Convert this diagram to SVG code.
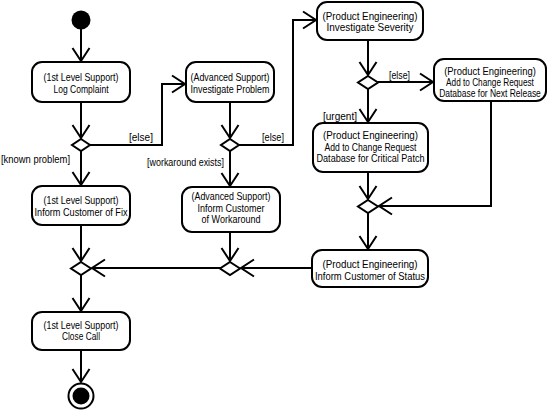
<svg xmlns="http://www.w3.org/2000/svg" width="550" height="410" viewBox="0 0 550 410">
<defs>
<style>
.box{fill:#fff;stroke:#000;stroke-width:2}
.dia{fill:#fff;stroke:#000;stroke-width:2}
.ln{fill:none;stroke:#000;stroke-width:2}
text{font-family:"Liberation Sans",Arial,sans-serif;font-size:11.5px;fill:#000}
.c{text-anchor:middle}
</style>
<marker id="arr" markerUnits="userSpaceOnUse" markerWidth="20" markerHeight="20" viewBox="-14 -10 16 20" refX="0" refY="0" orient="auto">
<path d="M-13,-8.5 L0,0 L-13,8.5" fill="none" stroke="#000" stroke-width="2"/>
</marker>
</defs>
<rect width="550" height="410" fill="#fff"/>
<g id="connectors">
<path class="ln" d="M81,29 V61" marker-end="url(#arr)"/>
<path class="ln" d="M81,102 V138" marker-end="url(#arr)"/>
<path class="ln" d="M90,145 H162 V84 H185" marker-end="url(#arr)"/>
<path class="ln" d="M81,151 V185" marker-end="url(#arr)"/>
<path class="ln" d="M230,102 V138" marker-end="url(#arr)"/>
<path class="ln" d="M239,145 H293 V20 H316" marker-end="url(#arr)"/>
<path class="ln" d="M230,151 V186" marker-end="url(#arr)"/>
<path class="ln" d="M368,40 V75" marker-end="url(#arr)"/>
<path class="ln" d="M378,82 H433" marker-end="url(#arr)"/>
<path class="ln" d="M368,89 V122" marker-end="url(#arr)"/>
<path class="ln" d="M368,172 V199" marker-end="url(#arr)"/>
<path class="ln" d="M491,101 V206 H379" marker-end="url(#arr)"/>
<path class="ln" d="M368,213 V249" marker-end="url(#arr)"/>
<path class="ln" d="M312,268 H241" marker-end="url(#arr)"/>
<path class="ln" d="M221,268 H92" marker-end="url(#arr)"/>
<path class="ln" d="M230,232 V261" marker-end="url(#arr)"/>
<path class="ln" d="M81,225 V261" marker-end="url(#arr)"/>
<path class="ln" d="M81,275 V311" marker-end="url(#arr)"/>
<path class="ln" d="M81,350 V382" marker-end="url(#arr)"/>
<text x="129" y="141" textLength="24" lengthAdjust="spacingAndGlyphs">[else]</text>
<text x="1" y="163" textLength="69" lengthAdjust="spacingAndGlyphs">[known problem]</text>
<text x="147" y="166" textLength="77" lengthAdjust="spacingAndGlyphs">[workaround exists]</text>
<text x="262" y="141" textLength="22" lengthAdjust="spacingAndGlyphs">[else]</text>
<text x="389" y="79" textLength="21" lengthAdjust="spacingAndGlyphs">[else]</text>
<text x="323" y="120" textLength="34" lengthAdjust="spacingAndGlyphs">[urgent]</text>
</g>
<g id="start"><circle cx="81" cy="20" r="9.5" fill="#000"/></g>
<g id="logComplaint">
<rect class="box" x="32" y="62" width="98" height="40" rx="10"/>
<text class="c" x="81" y="81" textLength="75" lengthAdjust="spacingAndGlyphs">(1st Level Support)</text>
<text class="c" x="81" y="92.5" textLength="55" lengthAdjust="spacingAndGlyphs">Log Complaint</text>
</g>
<g id="dec1"><polygon class="dia" points="81,139 90,145 81,151 72,145"/></g>
<g id="investigateProblem">
<rect class="box" x="186" y="62" width="88" height="40" rx="10"/>
<text class="c" x="230" y="81" textLength="79" lengthAdjust="spacingAndGlyphs">(Advanced Support)</text>
<text class="c" x="230" y="92.5" textLength="79" lengthAdjust="spacingAndGlyphs">Investigate Problem</text>
</g>
<g id="dec2"><polygon class="dia" points="230,139 239,145 230,151 221,145"/></g>
<g id="informFix">
<rect class="box" x="32" y="186" width="98" height="39" rx="10"/>
<text class="c" x="81" y="204" textLength="75" lengthAdjust="spacingAndGlyphs">(1st Level Support)</text>
<text class="c" x="81" y="215.5" textLength="93" lengthAdjust="spacingAndGlyphs">Inform Customer of Fix</text>
</g>
<g id="informWorkaround">
<rect class="box" x="182" y="187" width="98" height="45" rx="10"/>
<text class="c" x="231" y="200" textLength="79" lengthAdjust="spacingAndGlyphs">(Advanced Support)</text>
<text class="c" x="231" y="211.5" textLength="67" lengthAdjust="spacingAndGlyphs">Inform Customer</text>
<text class="c" x="231" y="223" textLength="59" lengthAdjust="spacingAndGlyphs">of Workaround</text>
</g>
<g id="investigateSeverity">
<rect class="box" x="317" y="2" width="106" height="38" rx="10"/>
<text class="c" x="370" y="19.5" textLength="95" lengthAdjust="spacingAndGlyphs">(Product Engineering)</text>
<text class="c" x="370" y="31" textLength="87" lengthAdjust="spacingAndGlyphs">Investigate Severity</text>
</g>
<g id="dec3"><polygon class="dia" points="368,76 378,82.5 368,89 358,82.5"/></g>
<g id="nextRelease">
<rect class="box" x="434" y="59" width="112" height="42" rx="10"/>
<g transform="translate(490,0) scale(0.77,1)">
<text class="c" x="0" y="75" font-size="11" textLength="119" lengthAdjust="spacingAndGlyphs">(Product Engineering)</text>
<text class="c" x="0" y="86" font-size="11" textLength="114" lengthAdjust="spacingAndGlyphs">Add to Change Request</text>
<text class="c" x="0" y="97" font-size="11" textLength="132" lengthAdjust="spacingAndGlyphs">Database for Next Release</text>
</g>
</g>
<g id="criticalPatch">
<rect class="box" x="313" y="123" width="115" height="49" rx="10"/>
<text class="c" x="370.5" y="139" textLength="95" lengthAdjust="spacingAndGlyphs">(Product Engineering)</text>
<text class="c" x="370.5" y="150.5" textLength="92" lengthAdjust="spacingAndGlyphs">Add to Change Request</text>
<text class="c" x="370.5" y="162" textLength="108" lengthAdjust="spacingAndGlyphs">Database for Critical Patch</text>
</g>
<g id="dec4"><polygon class="dia" points="368,200 378,206.5 368,213 358,206.5"/></g>
<g id="informStatus">
<rect class="box" x="312" y="250" width="116" height="37" rx="10"/>
<text class="c" x="370" y="268" textLength="95" lengthAdjust="spacingAndGlyphs">(Product Engineering)</text>
<text class="c" x="370" y="279.5" textLength="110" lengthAdjust="spacingAndGlyphs">Inform Customer of Status</text>
</g>
<g id="dec5"><polygon class="dia" points="230,262 240,268.5 230,275 220,268.5"/></g>
<g id="dec6"><polygon class="dia" points="81,262 91,268.5 81,275 71,268.5"/></g>
<g id="closeCall">
<rect class="box" x="32" y="312" width="98" height="38" rx="10"/>
<text class="c" x="81" y="328.5" textLength="75" lengthAdjust="spacingAndGlyphs">(1st Level Support)</text>
<text class="c" x="81" y="340" textLength="38" lengthAdjust="spacingAndGlyphs">Close Call</text>
</g>
<g id="end">
<circle cx="81" cy="396" r="12.5" fill="#fff" stroke="#000" stroke-width="2"/>
<circle cx="81" cy="396" r="8.5" fill="#000"/>
</g>
</svg>
